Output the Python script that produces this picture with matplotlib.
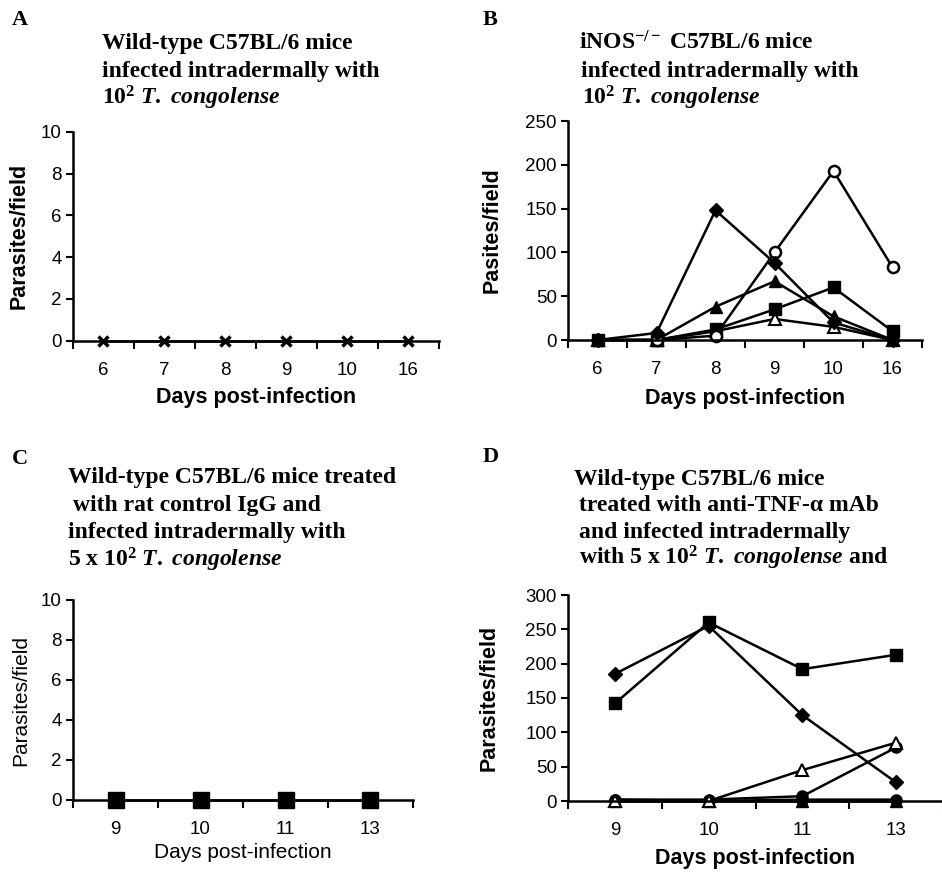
import numpy as np
import matplotlib.pyplot as plt

plt.rcParams['font.family'] = ['Liberation Sans', 'DejaVu Sans']
plt.rcParams['mathtext.fontset'] = 'custom'
plt.rcParams['mathtext.rm'] = 'Liberation Serif:bold'
plt.rcParams['mathtext.bf'] = 'Liberation Serif:bold'
plt.rcParams['mathtext.it'] = 'Liberation Serif:italic:bold'

# panel A: wild-type, 10^2
days_a = ['6', '7', '8', '9', '10', '16']
wt_a = [0, 0, 0, 0, 0, 0]

# panel B: iNOS-/-, 10^2
days_b = ['6', '7', '8', '9', '10', '16']
b_diamond = [0, 8, 148, 88, 20, 0]
b_circle_open = [0, 0, 5, 100, 193, 83]
b_triangle = [0, 0, 38, 67, 27, 0]
b_square = [0, 0, 12, 35, 60, 10]
b_triangle_open = [0, 0, 10, 24, 15, 0]

# panel C: rat control IgG, 5x10^2
days_c = ['9', '10', '11', '13']
igg_c = [0, 0, 0, 0]

# panel D: anti-TNF-a, 5x10^2
days_d = ['9', '10', '11', '13']
d_diamond = [185, 255, 125, 27]
d_square = [142, 260, 192, 213]
d_triangle_open = [0, 0, 45, 85]
d_circle = [2, 2, 7, 78]
d_circle2 = [2, 0, 2, 2]
d_triangle = [0, 0, 0, 0]

W, H = 942, 874
fig = plt.figure(figsize=(W / 100, H / 100), dpi=100)


def px_axes(x0, x1, ytop, ybot):
    return fig.add_axes([x0 / W, 1 - ybot / H, (x1 - x0) / W, (ybot - ytop) / H])


def setup(ax, cats, ymax, ystep, ylab, xlab, bold=True):
    n = len(cats)
    ax.set_xlim(-0.5, n - 0.5)
    ax.set_ylim(0, ymax)
    ax.set_yticks(np.arange(0, ymax + 0.01, ystep))
    ax.set_xticks(range(n))
    ax.set_xticklabels(cats)
    ax.set_xticks(np.arange(-0.5, n, 1.0), minor=True)
    ax.tick_params(axis='x', which='major', length=0, pad=15, labelsize=13.5)
    ax.tick_params(axis='x', which='minor', length=6, width=1.5, direction='out')
    ax.tick_params(axis='y', length=5, width=1.5, direction='out', pad=3, labelsize=13.5)
    for s in ['top', 'right']:
        ax.spines[s].set_visible(False)
    for s in ['left', 'bottom']:
        ax.spines[s].set_linewidth(1.8)
    w = 'bold' if bold else 'normal'
    fs = 15.5 if bold else 15
    ax.set_ylabel(ylab, fontsize=fs, fontweight=w)
    ax.set_xlabel(xlab, fontsize=fs, fontweight=w)
    return ax


def title(x, ys, lines, letter, lx, ly):
    fig.text(lx / W, 1 - ly / H, letter, family='Liberation Serif', fontweight='bold',
             fontsize=16, va='center', ha='left')
    for (dx, s), y in zip(lines, ys):
        fig.text((x + dx) / W, 1 - (y + 6) / H, s, family='Liberation Serif',
                 fontweight='bold', fontsize=17, va='baseline', ha='left')


lw = 1.8
tc = r'$\it{T.}$ $\it{congolense}$'

# A
ax = px_axes(72.7, 439, 132, 340.7)
setup(ax, days_a, 10, 2, 'Parasites/field', 'Days post-infection')
ax.plot(range(len(days_a)), wt_a, color='black', lw=lw, marker='x', ms=7, mew=2.5, clip_on=False)
ax.yaxis.set_label_coords(-0.145, 0.5)
ax.xaxis.set_label_coords(0.5, -0.27)
title(102, [43, 71, 98],
      [(0, 'Wild-type C57BL/6 mice'), (0, 'infected intradermally with'),
       (0, r'10$^2$ ' + tc)], 'A', 12, 20)

# B
ax = px_axes(568, 922, 121, 340)
setup(ax, days_b, 250, 50, 'Pasites/field', 'Days post-infection')
x = range(len(days_b))
kw = dict(color='black', lw=lw, clip_on=False)
ax.plot(x, b_triangle_open, marker='^', ms=9, mfc='white', mew=1.5, **kw)
ax.plot(x, b_square, marker='s', ms=9, **kw)
ax.plot(x, b_triangle, marker='^', ms=9, **kw)
ax.plot(x, b_circle_open, marker='o', ms=8, mfc='white', mew=1.8, **kw)
ax.plot(x, b_diamond, marker='D', ms=7, **kw)
ax.yaxis.set_label_coords(-0.215, 0.5)
ax.xaxis.set_label_coords(0.5, -0.265)
title(579, [43, 71, 98],
      [(0, r'iNOS$^{-/-}$ C57BL/6 mice'), (2, 'infected intradermally with'),
       (3, r'10$^2$ ' + tc)], 'B', 483, 20)

# C
ax = px_axes(73, 413, 600, 800)
setup(ax, days_c, 10, 2, 'Parasites/field', 'Days post-infection', bold=False)
ax.plot(range(len(days_c)), igg_c, color='black', lw=lw, marker='s', ms=11, clip_on=False)
ax.yaxis.set_label_coords(-0.155, 0.5)
ax.xaxis.set_label_coords(0.5, -0.26)
title(68, [477, 505, 532, 560],
      [(0, 'Wild-type C57BL/6 mice treated'), (5, 'with rat control IgG and'),
       (0, 'infected intradermally with'), (0, r'5 x 10$^2$ ' + tc)],
      'C', 12, 459)

# D
ax = px_axes(568, 943, 595, 801)
setup(ax, days_d, 300, 50, 'Parasites/field', 'Days post-infection')
x = range(len(days_d))
ax.plot(x, d_triangle, marker='^', ms=9, **kw)
ax.plot(x, d_circle2, marker='o', ms=8, **kw)
ax.plot(x, d_circle, marker='o', ms=8, **kw)
ax.plot(x, d_triangle_open, marker='^', ms=9, mfc='white', mew=1.5, **kw)
ax.plot(x, d_diamond, marker='D', ms=7, **kw)
ax.plot(x, d_square, marker='s', ms=9, **kw)
ax.yaxis.set_label_coords(-0.21, 0.5)
ax.xaxis.set_label_coords(0.5, -0.28)
title(574, [479, 505, 532, 559],
      [(0, 'Wild-type C57BL/6 mice'), (5, r'treated with anti-TNF-α mAb'),
       (5, 'and infected intradermally'), (5, r'with 5 x 10$^2$ ' + tc + ' and')],
      'D', 483, 457)

for a in fig.axes:
    a.xaxis.label.set_va('center')
    a.yaxis.label.set_va('center')

fig.savefig('out.png', dpi=100)
